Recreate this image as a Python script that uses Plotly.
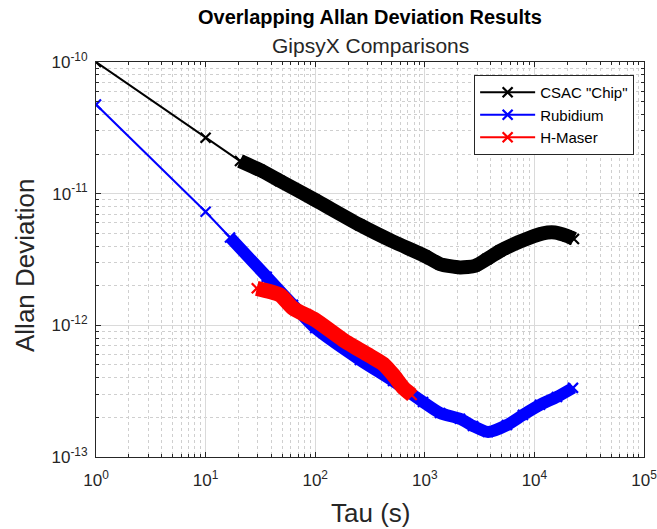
import plotly.graph_objects as go

# Overlapping Allan deviation, GipsyX comparisons (values read per clock)
csac_tau = [1, 10, 20.6, 31.4, 47.7, 100, 256, 513, 1000, 1377, 2094, 2871,
            3698, 4853, 7396, 11970, 15420, 19820, 22960]
csac_adev = [1.00e-10, 2.66e-11, 1.77e-11, 1.51e-11, 1.25e-11, 8.95e-12,
             5.78e-12, 4.33e-12, 3.37e-12, 2.92e-12, 2.75e-12, 2.83e-12,
             3.19e-12, 3.67e-12, 4.33e-12, 5.00e-12, 5.07e-12, 4.78e-12,
             4.53e-12]

rb_tau = [1, 10, 16.7, 36.1, 62.7, 100, 256, 513, 963, 1377, 2094, 2754,
          3774, 5623, 7870, 11250, 16070, 22500]
rb_adev = [4.75e-11, 7.29e-12, 4.65e-12, 2.34e-12, 1.43e-12, 9.55e-13,
           5.46e-13, 3.78e-13, 2.62e-13, 2.16e-13, 1.95e-13, 1.72e-13,
           1.55e-13, 1.75e-13, 2.09e-13, 2.49e-13, 2.86e-13, 3.35e-13]

hm_tau = [29.3, 47.7, 62.7, 100, 180, 316, 418, 516, 637, 759]
hm_adev = [1.91e-12, 1.70e-12, 1.35e-12, 1.10e-12, 7.75e-13, 5.86e-13,
           5.09e-13, 4.20e-13, 3.35e-13, 2.96e-13]

# decade ticks and their labels
x_ticks = [1e0, 1e1, 1e2, 1e3, 1e4, 1e5]
x_labels = ["10<sup>0</sup>", "10<sup>1</sup>", "10<sup>2</sup>",
            "10<sup>3</sup>", "10<sup>4</sup>", "10<sup>5</sup>"]
y_ticks = [1e-13, 1e-12, 1e-11, 1e-10]
y_labels = ["10<sup>-13</sup>", "10<sup>-12</sup>", "10<sup>-11</sup>",
            "10<sup>-10</sup>"]

series = [
    ('CSAC "Chip"', csac_tau, csac_adev, "#000000", 2, 14),
    ("Rubidium", rb_tau, rb_adev, "#0000ff", 2, 12),
    ("H-Maser", hm_tau, hm_adev, "#ff0000", 0, 15),
]

FONT = "Liberation Sans, Arial, Helvetica, sans-serif"
AX = "#262626"

fig = go.Figure()
for name, tau, adev, color, band_from, band_w in series:
    # dense marker band of the all-tau estimate
    fig.add_trace(go.Scatter(
        x=tau[band_from:], y=adev[band_from:], mode="lines",
        line=dict(color=color, width=band_w, shape="spline", smoothing=0.6),
        legendgroup=name, showlegend=False, hoverinfo="skip"))
    # connecting line with 'x' markers
    fig.add_trace(go.Scatter(
        x=tau, y=adev, mode="lines+markers", name=name, legendgroup=name,
        line=dict(color=color, width=2),
        marker=dict(symbol="x-thin", size=10, color=color,
                    line=dict(color=color, width=2.2))))

axis_common = dict(
    type="log", showline=True, linecolor=AX, linewidth=1, mirror="allticks",
    ticks="inside", ticklen=5, tickcolor=AX, tickmode="array",
    automargin=False, ticklabeloverflow="allow",
    tickfont=dict(family=FONT, size=17, color=AX),
    showgrid=True, gridcolor="#dadada", gridwidth=1, zeroline=False,
    minor=dict(dtick="D1", ticks="inside", ticklen=3, tickcolor=AX,
               showgrid=True, gridcolor="#cfcfcf", griddash="dot",
               gridwidth=1),
)

fig.update_xaxes(range=[0, 5], tickvals=x_ticks, ticktext=x_labels,
                 ticklabelstandoff=8, **axis_common)
fig.update_yaxes(range=[-13, -10], tickvals=y_ticks, ticktext=y_labels,
                 ticklabelstandoff=4, **axis_common)

fig.update_layout(
    width=657, height=529,
    margin=dict(l=96, r=13, t=62, b=72),
    paper_bgcolor="white", plot_bgcolor="white",
    font=dict(family=FONT, color=AX),
    legend=dict(x=0.982, xanchor="right", y=0.967, yanchor="top",
                bgcolor="white", bordercolor=AX, borderwidth=1,
                font=dict(family=FONT, size=15, color="#000000"),
                itemwidth=55, tracegroupgap=0),
    annotations=[
        dict(text="<b>Overlapping Allan Deviation Results</b>", x=0.5,
             y=1.1139, xref="paper", yref="paper", showarrow=False,
             xanchor="center", yanchor="middle",
             font=dict(family=FONT, size=20, color="#000000")),
        dict(text="GipsyX Comparisons", x=0.5, y=1.043, xref="paper",
             yref="paper", showarrow=False, xanchor="center",
             yanchor="middle", font=dict(family=FONT, size=21, color=AX)),
        dict(text="Tau (s)", x=0.5, y=-0.1418, xref="paper", yref="paper",
             showarrow=False, xanchor="center", yanchor="middle",
             font=dict(family=FONT, size=26, color=AX)),
        dict(text="Allan Deviation", x=-0.1296, y=0.486, xref="paper",
             yref="paper", showarrow=False, xanchor="center",
             yanchor="middle", textangle=-90,
             font=dict(family=FONT, size=26, color=AX)),
    ],
)

fig.write_html("out.html")
